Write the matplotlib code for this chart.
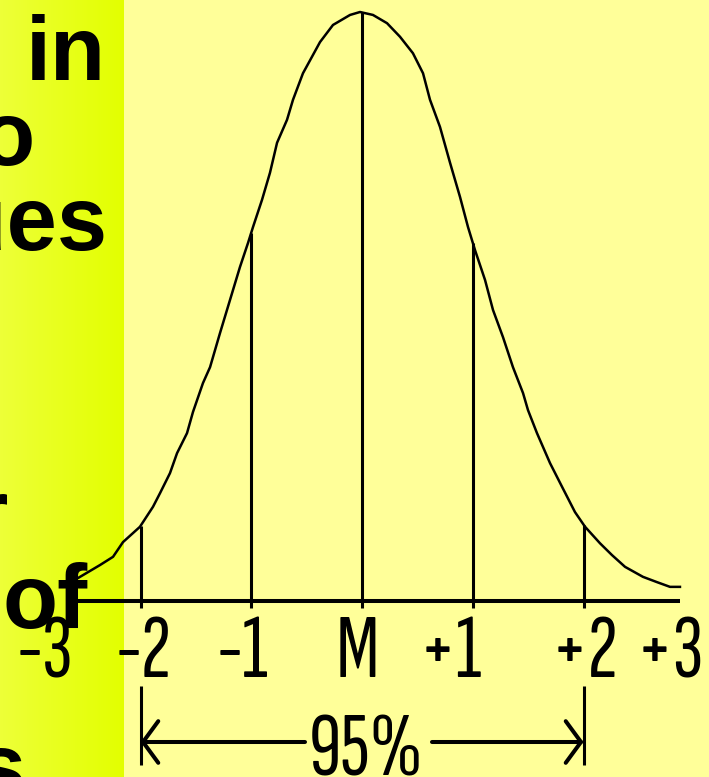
import numpy as np
import matplotlib
matplotlib.use("Agg")
import matplotlib.pyplot as plt

# ------------------------------------------------------
# Data: bell curve traced in SD units (x) and relative
# height above the baseline (peak = 1.0)
# ------------------------------------------------------
curve_z = [-2.609, -2.564, -2.366, -2.248, -2.158, -2.005, -1.887, -1.824,
           -1.734, -1.670, -1.580, -1.526, -1.436, -1.372, -1.282, -1.192,
           -1.102, -1.029, -0.984, -0.903, -0.831, -0.767, -0.677, -0.623,
           -0.533, -0.379, -0.262, -0.108, -0.018, 0.099, 0.226, 0.343,
           0.460, 0.551, 0.614, 0.704, 0.795, 0.885, 0.957, 1.020,
           1.111, 1.183, 1.273, 1.363, 1.454, 1.499, 1.580, 1.698,
           1.806, 1.923, 2.014, 2.149, 2.257, 2.375, 2.537, 2.664,
           2.781, 2.871]
curve_h = [0.036, 0.039, 0.061, 0.075, 0.100, 0.126, 0.160, 0.183,
           0.217, 0.251, 0.285, 0.321, 0.370, 0.397, 0.455, 0.511,
           0.567, 0.608, 0.635, 0.681, 0.727, 0.778, 0.817, 0.851,
           0.896, 0.949, 0.978, 0.995, 1.000, 0.995, 0.981, 0.958,
           0.930, 0.896, 0.851, 0.805, 0.744, 0.686, 0.635, 0.596,
           0.545, 0.494, 0.448, 0.397, 0.353, 0.324, 0.285, 0.234,
           0.194, 0.151, 0.126, 0.098, 0.078, 0.058, 0.041, 0.032,
           0.024, 0.024]

sd_lines = [-2, -1, 0, 1, 2]
tick_text = ["-3", "-2", "-1", "M", "+1", "+2", "+3"]
band_text = "95%"
band_range = (-2, 2)

# side text of the slide (partly cut off at the left edge)
side_text = ["in", "to", "values", "for", "of", "values"]

# ------------------------------------------------------
# Layout (pixels of a 709 x 777 canvas)
# ------------------------------------------------------
W, H = 709, 777
X0, SD_PX = 362.0, 110.75          # mean position and px per SD
BASE_Y, PEAK_PX = 601.0, 589.0     # baseline row and curve height in px

BG = "#FFFF99"
STRIP_W = 123
STRIP_L, STRIP_R = (0.93, 1.0, 0.22), (0.89, 1.0, 0.0)

tick_px = [45, 144, 243, 357.5, 450, 584, 670]
side_pos = [(26, 80, "left"), (36, 165, "right"), (108, 250, "right"),
            (9, 543, "right"), (2, 628, "left"), (27, 797, "right")]

LABEL_FONT = ["Sofia Sans Extra Condensed", "DejaVu Sans"]
LABEL_SIZE = 65


def zx(px):
    return (px - X0) / SD_PX


def hy(py):
    return (BASE_Y - py) / PEAK_PX


fig = plt.figure(figsize=(W / 100, H / 100), dpi=100)
fig.patch.set_facecolor(BG)
ax = fig.add_axes([0, 0, 1, 1])
ax.set_facecolor(BG)
ax.set_xlim(zx(0), zx(W))
ax.set_ylim(hy(H), hy(0))
ax.axis("off")

# bright strip on the left
grad = np.linspace(0, 1, 64)
strip = np.array([[np.array(STRIP_L) * (1 - g) + np.array(STRIP_R) * g for g in grad]])
ax.imshow(strip, extent=(zx(0), zx(STRIP_W), hy(H), hy(0)),
          aspect="auto", zorder=0, interpolation="bilinear")

# curve + baseline
ax.plot(curve_z, curve_h, color="black", lw=1.8, zorder=3)
ax.plot([curve_z[0], curve_z[-1]], [0, 0], color="black", lw=2.9,
        solid_capstyle="butt", zorder=3)

# SD lines up to the curve
tops = np.interp(sd_lines, curve_z, curve_h)
for z, top in zip(sd_lines, tops):
    ax.plot([z, z], [hy(608), top], color="black", lw=2.2,
            solid_capstyle="butt", zorder=3)

# axis labels
for t, px in zip(tick_text, tick_px):
    ax.text(zx(px), hy(677), t, ha="center", va="baseline",
            family=LABEL_FONT, fontsize=LABEL_SIZE, color="black", zorder=4)

# 95% band: end bars, arrows and label
for z in band_range:
    ax.plot([z, z], [hy(686), hy(765)], color="black", lw=2.2,
            solid_capstyle="butt", zorder=3)
arrow_y = hy(742)
arrow = dict(arrowstyle="->,head_length=1.1,head_width=1.5", lw=2.9,
             color="black", shrinkA=0, shrinkB=0, mutation_scale=10)
ax.annotate("", xy=(band_range[0], arrow_y), xytext=(zx(305), arrow_y),
            arrowprops=arrow, zorder=3)
ax.annotate("", xy=(band_range[1], arrow_y), xytext=(zx(432), arrow_y),
            arrowprops=arrow, zorder=3)
ax.text(zx(366), hy(775), band_text, ha="center", va="baseline",
        family=LABEL_FONT, fontsize=LABEL_SIZE, color="black", zorder=4)

# slide text on the left
for t, (px, py, ha) in zip(side_text, side_pos):
    fig.text(px / W, 1 - py / H, t, ha=ha, va="baseline",
             family=["Liberation Sans", "DejaVu Sans"], fontweight="bold",
             fontsize=65, color="black", zorder=5)

fig.savefig("out.png", dpi=100, facecolor=BG)
